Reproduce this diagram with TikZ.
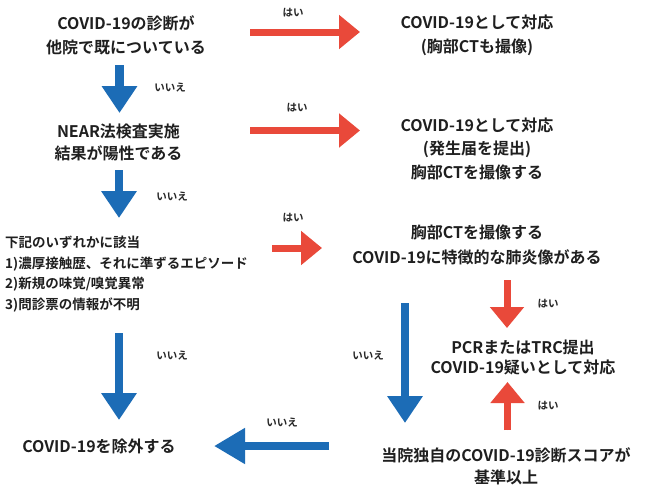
\documentclass[tikz,border=0pt]{standalone}
\usepackage{fontspec}
\newfontfamily\jp{Noto Sans CJK JP}[BoldFont={* Bold}]
\usetikzlibrary{arrows.meta}
\definecolor{fblue}{RGB}{28,108,182}
\definecolor{fred}{RGB}{233,73,58}
\begin{document}
\begin{tikzpicture}[x=1pt,y=-1pt,
  txt/.style={inner sep=0pt,align=center,font=\jp\bfseries\fontsize{16}{24}\selectfont,text=black!88},
  lbl/.style={inner sep=0pt,font=\jp\bfseries\fontsize{10.5}{12}\selectfont,text=black!85},
  bluearrow/.style={draw=fblue,line width=8.5pt,-{Triangle[width=34pt,length=27pt]},fill=fblue},
  redarrow/.style={draw=fred,line width=7pt,-{Triangle[width=33pt,length=21pt]},fill=fred}]
\useasboundingbox (0,0) rectangle (648,485);
\fill[white] (0,0) rectangle (648,485);
% nodes
\node[txt] (A) at (126,35) {COVID-19の診断が\\他院で既についている};
\node[txt] (B) at (477,35) {COVID-19として対応\\(胸部CTも撮像)};
\node[txt,font=\jp\bfseries\fontsize{16}{22}\selectfont] (C) at (118.5,142) {NEAR法検査実施\\結果が陽性である};
\node[txt,font=\jp\bfseries\fontsize{16}{23.5}\selectfont] (D) at (477,148.5) {COVID-19として対応\\(発生届を提出)\\胸部CTを撮像する};
\node[txt,anchor=west,align=left,font=\jp\bfseries\fontsize{13.5}{20.7}\selectfont] (E) at (5,274) {下記のいずれかに該当\\1)濃厚接触歴、それに準ずるエピソード\\2)新規の味覚/嗅覚異常\\3)問診票の情報が不明};
\node[txt,font=\jp\bfseries\fontsize{16}{25}\selectfont] (F) at (477,244.5) {胸部CTを撮像する\\COVID-19に特徴的な肺炎像がある};
\node[txt,font=\jp\bfseries\fontsize{16}{20}\selectfont] (G) at (523,357) {PCRまたはTRC提出\\COVID-19疑いとして対応};
\node[txt,font=\jp\bfseries\fontsize{16}{22}\selectfont] (H) at (506,466) {当院独自のCOVID-19診断スコアが\\基準以上};
\node[txt] (I) at (99,446) {COVID-19を除外する};
% arrow end points
\coordinate (r1s) at (250,32);   \coordinate (r1e) at (360,32);
\coordinate (r2s) at (250,130.5);\coordinate (r2e) at (360,130.5);
\coordinate (r3s) at (272,248);  \coordinate (r3e) at (322,248);
\coordinate (r4s) at (507,280);  \coordinate (r4e) at (507,328);
\coordinate (r5s) at (507.5,430);\coordinate (r5e) at (507.5,382);
\coordinate (b1s) at (119.5,65); \coordinate (b1e) at (119.5,113);
\coordinate (b2s) at (119,170);  \coordinate (b2e) at (119,218);
\coordinate (b3s) at (119,333);  \coordinate (b3e) at (119,420);
\coordinate (b4s) at (405,303);  \coordinate (b4e) at (405,423);
\coordinate (b5s) at (329,446);  \coordinate (b5e) at (214,446);
% arrows
\draw[redarrow] (r1s) -- (r1e);
\draw[redarrow] (r2s) -- (r2e);
\draw[redarrow] (r3s) -- (r3e);
\draw[redarrow] (r4s) -- (r4e);
\draw[redarrow] (r5s) -- (r5e);
\draw[bluearrow] (b1s) -- (b1e);
\draw[bluearrow] (b2s) -- (b2e);
\draw[bluearrow] (b3s) -- (b3e);
\draw[bluearrow] (b4s) -- (b4e);
\draw[bluearrow,-{Triangle[width=34pt,length=31pt]}] (b5s) -- (b5e);
% labels
\node[lbl] (y1) at (293,13) {はい};
\node[lbl] (y2) at (297,108) {はい};
\node[lbl] (y3) at (293,218) {はい};
\node[lbl] (y4) at (548,304) {はい};
\node[lbl] (y5) at (548,406) {はい};
\node[lbl] (n1) at (170,88) {いいえ};
\node[lbl] (n2) at (172,197) {いいえ};
\node[lbl] (n3) at (172,356) {いいえ};
\node[lbl] (n4) at (368,356) {いいえ};
\node[lbl] (n5) at (282,423) {いいえ};
\end{tikzpicture}
\end{document}
